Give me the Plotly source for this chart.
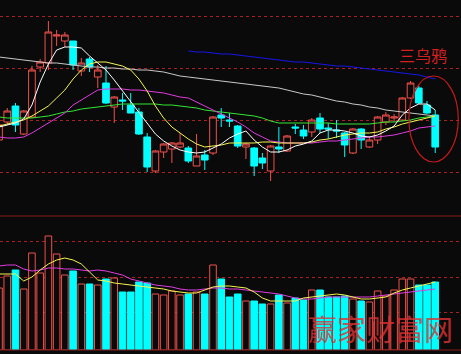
import plotly.graph_objects as go

# ---- data (price units) ----
opens = [5.60,5.78,5.94,5.66,5.83,6.33,6.37,6.64,6.59,6.59,6.29,6.41,6.23,6.17,5.93,6.00,5.95,5.88,5.63,5.29,
         5.48,5.51,5.53,5.52,5.34,5.45,5.47,5.85,5.80,5.74,5.53,5.52,5.42,5.29,5.53,5.49,5.73,5.70,5.68,5.82,
         5.72,5.70,5.67,5.47,5.71,5.53,5.60,5.78,5.82,5.80,6.02,6.12,5.95,5.85]
highs = [5.77,5.92,5.97,5.90,6.34,6.41,6.79,6.70,6.68,6.59,6.42,6.43,6.35,6.34,6.04,6.07,6.07,5.92,5.67,5.50,
         5.57,5.58,5.67,5.54,5.66,5.50,5.84,5.92,5.87,5.75,5.57,5.53,5.47,5.55,5.73,5.65,5.76,5.75,5.82,5.87,
         5.77,5.80,5.68,5.72,5.72,5.64,5.84,5.88,5.86,6.03,6.19,6.14,5.99,5.90]
lows = [5.59,5.75,5.68,5.65,5.82,6.28,6.30,6.54,6.53,6.30,6.24,6.28,6.12,5.96,5.77,5.90,5.87,5.65,5.28,5.27,
        5.42,5.37,5.52,5.37,5.34,5.30,5.45,5.73,5.73,5.52,5.41,5.24,5.31,5.19,5.47,5.48,5.66,5.61,5.63,5.67,
        5.61,5.62,5.43,5.46,5.51,5.52,5.56,5.75,5.78,5.79,6.01,5.96,5.86,5.47]
closes = [5.75,5.89,5.75,5.89,6.30,6.38,6.68,6.65,6.65,6.35,6.37,6.33,6.30,5.97,6.03,5.99,5.87,5.66,5.33,5.49,
          5.56,5.57,5.57,5.39,5.44,5.40,5.83,5.82,5.79,5.54,5.56,5.34,5.37,5.54,5.51,5.64,5.72,5.64,5.80,5.71,
          5.71,5.69,5.55,5.71,5.60,5.60,5.83,5.85,5.83,6.02,6.17,5.97,5.87,5.53]
volumes = [62,74,80,61,97,77,114,96,75,79,66,66,65,71,72,58,58,68,67,56,
           55,59,55,56,58,56,85,71,53,56,49,49,46,46,55,47,52,50,60,60,
           53,53,54,51,49,48,59,54,60,71,71,65,65,68]

ma_white = [5.73,5.75,5.77,5.81,5.95,6.18,6.36,6.50,6.53,6.53,6.52,6.44,6.37,6.30,6.20,6.09,5.98,5.88,5.76,5.66,
            5.59,5.54,5.50,5.48,5.47,5.48,5.52,5.56,5.62,5.66,5.69,5.60,5.53,5.48,5.48,5.50,5.54,5.56,5.59,5.67,
            5.70,5.70,5.69,5.67,5.64,5.63,5.65,5.69,5.74,5.85,5.92,5.96,5.96,5.90]
ma_yellow = [5.74,5.76,5.78,5.80,5.84,5.89,5.94,6.02,6.10,6.21,6.30,6.36,6.38,6.38,6.36,6.34,6.30,6.21,6.09,5.94,
             5.82,5.73,5.67,5.61,5.56,5.53,5.54,5.55,5.57,5.57,5.57,5.57,5.58,5.58,5.57,5.57,5.57,5.57,5.58,5.60,
             5.61,5.63,5.65,5.66,5.67,5.67,5.68,5.71,5.73,5.76,5.78,5.80,5.82,5.84]
ma_magenta = [5.63,5.62,5.62,5.63,5.67,5.72,5.77,5.82,5.87,5.95,6.00,6.05,6.10,6.11,6.11,6.11,6.10,6.10,6.09,6.08,
              6.07,6.05,6.03,6.02,5.98,5.94,5.90,5.86,5.82,5.78,5.73,5.67,5.63,5.59,5.58,5.57,5.57,5.57,5.57,5.58,
              5.59,5.59,5.60,5.61,5.62,5.63,5.63,5.64,5.65,5.67,5.69,5.72,5.73,5.74]
ma_green = [5.83,5.82,5.82,5.82,5.82,5.83,5.84,5.86,5.88,5.89,5.91,5.92,5.93,5.94,5.95,5.96,5.96,5.96,5.96,5.96,
            5.95,5.95,5.94,5.93,5.92,5.90,5.89,5.88,5.87,5.86,5.85,5.84,5.82,5.79,5.77,5.77,5.77,5.77,5.77,5.77,
            5.77,5.76,5.76,5.76,5.76,5.76,5.77,5.78,5.78,5.79,5.80,5.82,5.83,5.84]
ma_gray = [6.43,6.42,6.41,6.40,6.39,6.38,6.37,6.37,6.36,6.35,6.34,6.33,6.33,6.32,6.32,6.31,6.31,6.30,6.30,6.29,
           6.28,6.26,6.24,6.23,6.22,6.21,6.20,6.19,6.18,6.17,6.16,6.15,6.14,6.13,6.12,6.10,6.08,6.06,6.05,6.03,
           6.01,5.99,5.98,5.96,5.95,5.93,5.92,5.90,5.89,5.88,5.87,5.86,5.85,5.84]
ma_blue = [None]*23 + [6.49,6.48,6.48,6.47,6.46,6.46,6.45,6.44,6.43,6.42,6.41,6.40,6.39,6.38,6.38,6.37,6.36,6.35,
                       6.34,6.34,6.33,6.32,6.31,6.30,6.29,6.28,6.27,6.26,6.25,6.23,6.21]
vol_ma_yellow = [76,76,76,69,73,80,86,90,92,90,86,78,70,69,67,66,65,64,63,62,
                 61,59,58,57,57,60,63,64,64,63,62,58,52,49,49,49,49,52,53,54,
                 55,56,55,53,51,51,52,53,57,60,62,64,66,68]
vol_ma_magenta = [84,85,85,81,79,80,82,82,81,81,80,79,80,79,77,75,71,69,67,65,
                  64,63,61,60,60,61,62,62,61,61,60,59,58,57,56,54,52,51,51,52,
                  53,53,53,53,53,53,54,55,56,57,58,59,60,61]

price_grid = [6.84, 6.32, 5.80, 5.28]
vol_grid = [108.7, 72.7, 37.3]
annot_text = "三乌鸦"
watermark = "赢家财富网"
ellipse_x = (49.8, 55.8)
ellipse_y = (5.38, 6.24)
annot_pos = (51.5, 6.455)

x = list(range(len(closes)))

BG = "#0a0a0a"
RED = "#f0504a"
CYAN = "#00ffff"

fig = go.Figure()
fig.add_trace(go.Candlestick(
    x=x, open=opens, high=highs, low=lows, close=closes,
    increasing=dict(line=dict(color=RED, width=1), fillcolor=BG),
    decreasing=dict(line=dict(color=CYAN, width=1), fillcolor=CYAN),
    whiskerwidth=0, showlegend=False, hoverinfo="skip"))

for vals, col in [(ma_gray, "#c8c8c8"), (ma_blue, "#1515e8"), (ma_green, "#33e633"),
                  (ma_magenta, "#e03ce0"), (ma_yellow, "#f5f550"), (ma_white, "#ffffff")]:
    fig.add_trace(go.Scatter(x=x, y=vals, mode="lines", line=dict(color=col, width=1),
                             showlegend=False, hoverinfo="skip", connectgaps=False))

up = [c >= o for o, c in zip(opens, closes)]
fig.add_trace(go.Bar(
    x=x, y=volumes, yaxis="y2", width=0.8,
    marker=dict(color=[BG if u else CYAN for u in up],
                line=dict(color=[RED if u else CYAN for u in up], width=1)),
    showlegend=False, hoverinfo="skip"))
fig.add_trace(go.Scatter(x=x, y=vol_ma_magenta, yaxis="y2", mode="lines",
                         line=dict(color="#e03ce0", width=1), showlegend=False, hoverinfo="skip"))
fig.add_trace(go.Scatter(x=x, y=vol_ma_yellow, yaxis="y2", mode="lines",
                         line=dict(color="#f5f550", width=1), showlegend=False, hoverinfo="skip"))

H = 354.0
top_dom = [1 - 216 / H, 1]
vol_dom = [1 - 350 / H, 1 - 216 / H]

fig.update_layout(
    width=461, height=354, margin=dict(l=0, r=0, t=0, b=0, pad=0),
    paper_bgcolor=BG, plot_bgcolor=BG, boxgap=0.19, boxgroupgap=0,
    xaxis=dict(range=[0.12, 56.13], showgrid=False, zeroline=False, showticklabels=False,
               rangeslider=dict(visible=False), fixedrange=True),
    yaxis=dict(domain=top_dom, range=[4.84, 7.00], tickvals=price_grid, showticklabels=False,
               showgrid=True, gridcolor="#a82222", griddash="dot", gridwidth=1, zeroline=False),
    yaxis2=dict(domain=vol_dom, range=[0, 134], tickvals=vol_grid, showticklabels=False,
                showgrid=True, gridcolor="#a82222", griddash="dot", gridwidth=1, zeroline=False,
                anchor="x"),
    shapes=[
        dict(type="line", xref="paper", yref="paper", x0=0, x1=1, y0=vol_dom[1], y1=vol_dom[1],
             line=dict(color="#8a1a1a", width=1)),
        dict(type="line", xref="paper", yref="paper", x0=0, x1=1, y0=vol_dom[0], y1=vol_dom[0],
             line=dict(color="#8a1a1a", width=1)),
        dict(type="circle", xref="x", yref="y", x0=ellipse_x[0], x1=ellipse_x[1],
             y0=ellipse_y[0], y1=ellipse_y[1], line=dict(color="#c41a1a", width=1.2)),
    ],
    annotations=[
        dict(x=annot_pos[0], y=annot_pos[1], xref="x", yref="y", text=annot_text, showarrow=False,
             font=dict(family="Noto Sans CJK SC", size=16, color="#d42020")),
        dict(x=380 / 461, y=1 - 328 / H, xref="paper", yref="paper", text=watermark, showarrow=False,
             xanchor="center", yanchor="middle",
             font=dict(family="Noto Sans CJK SC", size=29, color="rgba(225,50,50,0.8)")),
    ],
)

fig.write_html("out.html")
